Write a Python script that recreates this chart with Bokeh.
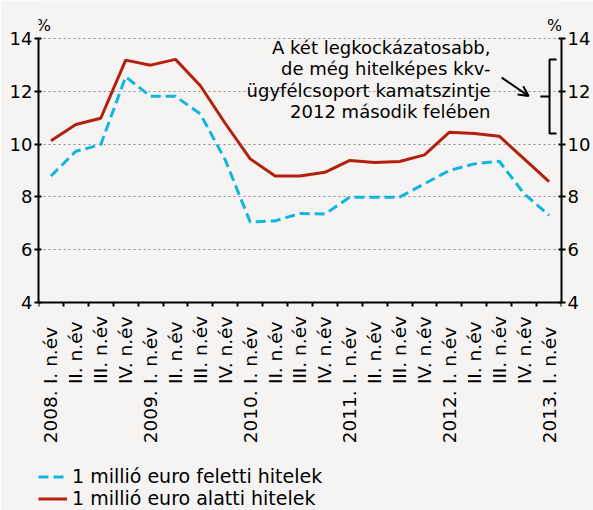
import numpy as np
from bokeh.plotting import figure
from bokeh.models import (Range1d, LinearAxis, FixedTicker, ColumnDataSource, Grid,
                          LabelSet, Label, Legend, LegendItem, Arrow, OpenHead)
from bokeh.core.properties import value
from bokeh.embed import file_html
from bokeh.resources import INLINE

# ---------------- data ----------------
quarters = ["I. n.év", "II. n.év", "III. n.év", "IV. n.év"] * 5 + ["I. n.év"]
years = ["2008.", "2009.", "2010.", "2011.", "2012.", "2013."]
feletti = [8.79, 9.73, 9.98, 12.55, 11.81, 11.81, 11.14, 9.40, 7.05, 7.09, 7.37,
           7.35, 7.99, 7.99, 7.99, 8.50, 9.00, 9.25, 9.35, 8.12, 7.30]
alatti = [10.13, 10.74, 10.98, 13.18, 12.99, 13.21, 12.21, 10.78, 9.44, 8.79, 8.79,
          8.93, 9.38, 9.30, 9.34, 9.59, 10.45, 10.40, 10.30, 9.44, 8.58]
y_ticks = [4, 6, 8, 10, 12, 14]
series_names = ["1 millió euro feletti hitelek", "1 millió euro alatti hitelek"]
note_lines = ["A két legkockázatosabb,", "de még hitelképes kkv-",
              "ügyfélcsoport kamatszintje", "2012 második felében"]
bracket_low, bracket_high = 10.4, 13.2

FONT = "DejaVu Sans"
BG = "#f5f4f2"
RED = "#b3200e"
BLUE = "#12b5e0"

W, H = 593, 510
LEFT, RIGHT = 38, 30               # frame margins (px)
Y_TOP_PX, PX_PER_UNIT = 38, 26.4   # pixel row of the 14 % line, px per unit

x = list(range(1, len(quarters) + 1))
year_x = [xi for xi, q in zip(x, quarters) if q.startswith("I.")]
y_lo, y_hi = min(y_ticks), max(y_ticks)
y_end = y_hi + Y_TOP_PX / PX_PER_UNIT
y_start = y_hi - (H - Y_TOP_PX) / PX_PER_UNIT

p = figure(width=W, height=H, x_range=Range1d(0.5, len(x) + 0.5),
           y_range=Range1d(y_start, y_end), output_backend="svg",
           toolbar_location=None, title=None, x_axis_type=None, y_axis_type=None,
           min_border_left=LEFT, min_border_right=RIGHT, min_border_top=0,
           min_border_bottom=0, background_fill_color=BG, border_fill_color=BG,
           outline_line_color=None)

# x axis: placed at the 4 % level, ticks at category boundaries, no labels
xa = LinearAxis(fixed_location=y_lo, bounds=(0.5, len(x) + 0.5),
                ticker=FixedTicker(ticks=[], minor_ticks=[i + 0.5 for i in range(len(x) + 1)]),
                minor_tick_out=4, minor_tick_in=0, minor_tick_line_width=2,
                minor_tick_line_color="black", axis_line_width=2,
                axis_line_color="black", major_tick_line_color=None)
p.add_layout(xa, "below")

def make_y():
    return LinearAxis(bounds=(y_lo, y_hi),
                      ticker=FixedTicker(ticks=y_ticks),
                      major_tick_in=3, major_tick_out=4,
                      minor_tick_line_color=None, axis_line_width=2,
                      major_tick_line_width=2, axis_line_color="black",
                      major_tick_line_color="black", major_label_text_font=FONT,
                      major_label_text_font_size="18px",
                      major_label_text_color="black", major_label_standoff=2)

p.add_layout(make_y(), "left")
p.add_layout(make_y(), "right")

p.add_layout(Grid(dimension=1, ticker=FixedTicker(ticks=y_ticks[1:]),
                  grid_line_color="#8c8c8c", grid_line_dash="2 3",
                  grid_line_width=1))

r_blue = p.line(x, feletti, line_color=BLUE, line_width=3, line_dash="10 5")
r_red = p.line(x, alatti, line_color=RED, line_width=3)

legend = Legend(items=[LegendItem(label=series_names[0], renderers=[r_blue]),
                       LegendItem(label=series_names[1], renderers=[r_red])],
                location=(0, 1), padding=0, margin=0, spacing=0,
                glyph_width=29, glyph_height=21, label_height=21,
                label_standoff=5, label_text_font=FONT,
                label_text_font_size="19px", label_text_color="black",
                border_line_alpha=0, background_fill_alpha=0)
p.add_layout(legend, "center")

# category labels below the axis
src_q = ColumnDataSource(dict(x=x, y=[0.91] * len(x), text=quarters))
p.add_layout(LabelSet(x="x", y="y", text="text", source=src_q, angle=np.pi / 2,
                      text_align="left", text_baseline="middle",
                      text_font=value(FONT), text_font_size="18.5px",
                      text_color="black"))
src_y = ColumnDataSource(dict(x=year_x, y=[-1.33] * len(year_x), text=years))
p.add_layout(LabelSet(x="x", y="y", text="text", source=src_y, angle=np.pi / 2,
                      text_align="left", text_baseline="middle",
                      text_font=value(FONT), text_font_size="18.5px",
                      text_color="black"))

# % unit labels
for ux in (0.69, 21.22):
    p.add_layout(Label(x=ux, y=14.49, text="%", text_align="center",
                       text_baseline="middle", text_font=FONT,
                       text_font_size="16px", text_color="black"))

# note text
src_n = ColumnDataSource(dict(x=[18.65] * len(note_lines),
                              y=[13.41 - 0.81 * i for i in range(len(note_lines))],
                              text=note_lines))
p.add_layout(LabelSet(x="x", y="y", text="text", source=src_n,
                      text_align="right", text_baseline="alphabetic",
                      text_font=value(FONT), text_font_size="18px",
                      text_color="black"))

# bracket and arrow
bracket_mid = (bracket_low + bracket_high) / 2
p.line([21.30, 21.02, 21.02, 21.30],
       [bracket_high, bracket_high, bracket_low, bracket_low],
       line_color="black", line_width=2)
p.line([20.65, 21.02], [bracket_mid, bracket_mid], line_color="black", line_width=2)
p.add_layout(Arrow(end=OpenHead(size=10, line_width=2, line_color="black"),
                   x_start=19.1, y_start=12.52, x_end=20.18, y_end=bracket_mid + 0.02,
                   line_width=2, line_color="black"))

open("out.html", "w").write(file_html(p, INLINE))
